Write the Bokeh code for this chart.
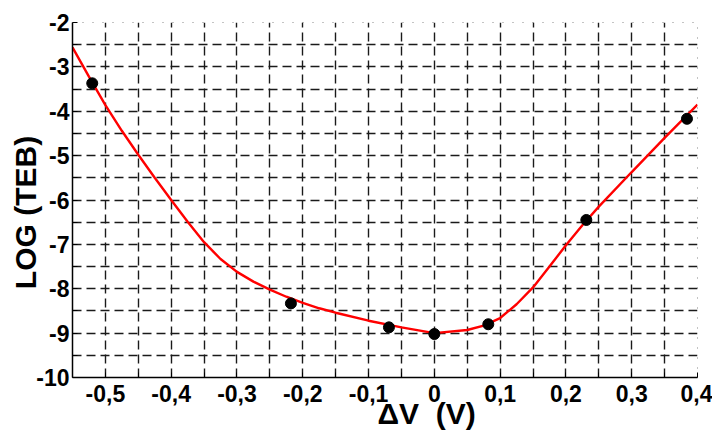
from bokeh.plotting import figure
from bokeh.models import FixedTicker, Range1d
from bokeh.embed import file_html
from bokeh.resources import INLINE

# measured points
pts_x = [-0.52, -0.218, -0.069, 0.0, 0.082, 0.231, 0.384]
pts_y = [-3.37, -8.33, -8.87, -9.02, -8.80, -6.45, -4.17]

# fitted curve
curve_x = [-0.55, -0.525, -0.5, -0.475, -0.45, -0.425, -0.4, -0.375, -0.35, -0.325, -0.3,
           -0.275, -0.25, -0.225, -0.2, -0.175, -0.15, -0.1, -0.05, 0.0, 0.05, 0.075, 0.1,
           0.125, 0.15, 0.175, 0.2, 0.225, 0.25, 0.3, 0.35, 0.4]
curve_y = [-2.56, -3.22, -3.86, -4.44, -4.98, -5.5, -6.0, -6.49, -6.95, -7.33, -7.62,
           -7.84, -8.02, -8.18, -8.32, -8.44, -8.54, -8.72, -8.87, -9.0, -8.93, -8.83, -8.66,
           -8.35, -7.97, -7.5, -7.02, -6.57, -6.15, -5.37, -4.6, -3.85]

x_ticks = [-0.5, -0.4, -0.3, -0.2, -0.1, 0.0, 0.1, 0.2, 0.3, 0.4]
x_tick_labels = ["-0,5", "-0,4", "-0,3", "-0,2", "-0,1", "0", "0,1", "0,2", "0,3", "0,4"]
x_minor = [-0.55, -0.45, -0.35, -0.25, -0.15, -0.05, 0.05, 0.15, 0.25, 0.35]
y_ticks = [-10, -9, -8, -7, -6, -5, -4, -3, -2]
y_tick_labels = ["-10", "-9", "-8", "-7", "-6", "-5", "-4", "-3", "-2"]
y_minor = [-9.5, -8.5, -7.5, -6.5, -5.5, -4.5, -3.5, -2.5]
x_title = "\u0394V\u00a0 (V)"
y_title = "LOG (TEB)"

NB = "\u00a0"
x_grid = sorted([t for t in x_ticks + x_minor if -0.55 < t < 0.4])
y_grid = sorted([t for t in y_ticks + y_minor if -10 < t < -2])

p = figure(width=712, height=434, output_backend="svg", toolbar_location=None,
           x_range=Range1d(-0.55, 0.4), y_range=Range1d(-10, -2),
           min_border_left=72, min_border_right=15, min_border_top=22, min_border_bottom=57,
           background_fill_color="white", border_fill_color="white")

p.outline_line_color = "#888888"
p.outline_line_dash = "1 9"
p.outline_line_width = 1

for ax in (p.xaxis[0], p.yaxis[0]):
    ax.axis_line_color = "black"
    ax.axis_line_width = 1.5
    ax.major_tick_in = 5
    ax.major_tick_out = 0
    ax.minor_tick_in = 5
    ax.minor_tick_out = 0
    ax.major_tick_line_color = "black"
    ax.minor_tick_line_color = "black"
    ax.major_label_text_font = "Liberation Sans"
    ax.major_label_text_font_style = "bold"
    ax.major_label_text_font_size = "23px"
    ax.major_label_text_color = "black"
    ax.axis_label_text_font = "Liberation Sans"
    ax.axis_label_text_font_style = "bold"
    ax.axis_label_text_font_size = "30px"
    ax.axis_label_text_color = "black"

p.xaxis[0].ticker = FixedTicker(ticks=x_ticks, minor_ticks=x_minor)
p.yaxis[0].ticker = FixedTicker(ticks=y_ticks, minor_ticks=y_minor)
p.xaxis[0].major_label_overrides = dict(zip(x_ticks, x_tick_labels))
p.yaxis[0].major_label_overrides = dict(zip(y_ticks, y_tick_labels))
p.xaxis[0].major_label_standoff = 7
p.yaxis[0].major_label_standoff = 3
# labels sit off-centre in the reference: pad with no-break spaces
p.xaxis[0].axis_label = NB * 10 + x_title
p.yaxis[0].axis_label = y_title + NB * 3
p.xaxis[0].axis_label_standoff = -8
p.yaxis[0].axis_label_standoff = -9

p.xgrid[0].ticker = FixedTicker(ticks=x_grid)
p.ygrid[0].ticker = FixedTicker(ticks=y_grid)
for g in (p.xgrid[0], p.ygrid[0]):
    g.grid_line_color = "#1a1a1a"
    g.grid_line_dash = "9 5"
    g.grid_line_width = 1.4

p.line(curve_x, curve_y, line_color="red", line_width=2.4)
p.scatter(pts_x, pts_y, size=11, fill_color="black", line_color="black")

open("out.html", "w").write(file_html(p, INLINE))
